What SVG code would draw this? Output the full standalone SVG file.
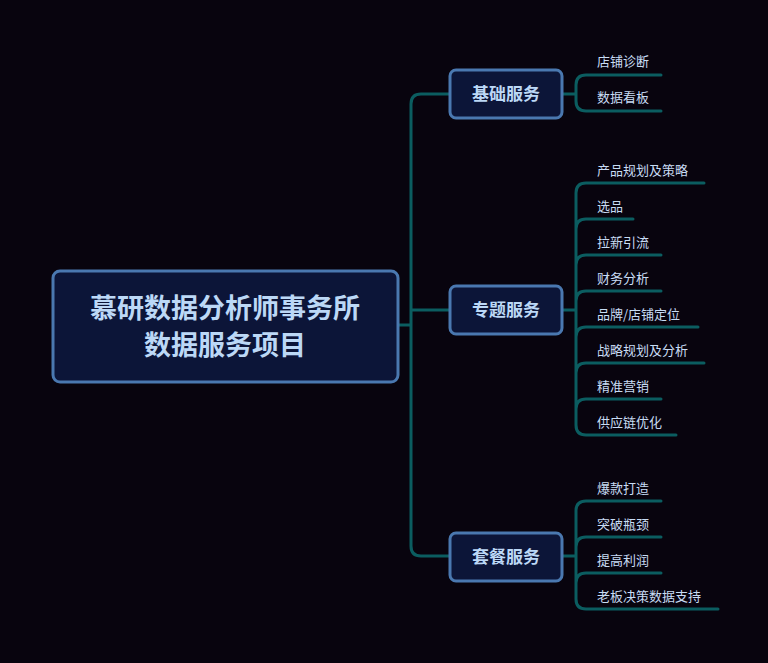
<svg xmlns="http://www.w3.org/2000/svg" width="768" height="663" viewBox="0 0 768 663">
<style>
.c{fill:none;stroke:#0b5d60;stroke-width:3;stroke-linecap:round}
.b{fill:#0c1538;stroke:#4a78b0;stroke-width:3}
.bt{font-family:"Noto Sans CJK SC",sans-serif;font-weight:bold;fill:#bcd8f6;text-anchor:middle}
.l{font-family:"Noto Sans CJK SC",sans-serif;font-size:13px;fill:#c8dcf4}
</style>
<rect width="768" height="663" fill="#08040e"/>
<g id="connectors">
<path class="c" d="M398 325H411M411 104Q411 94 421 94H450M411 325V104M411 325V546Q411 556 421 556H450M411 310H450"/>
<path class="c" d="M562 94H576M576 94V85Q576 75 586 75H661M576 94V101Q576 111 586 111H661"/>
<path class="c" d="M562 310H576M576 193Q576 183 586 183H704M576 193V425Q576 435 586 435H676M576 229Q576 219 586 219H633M576 265Q576 255 586 255H661M576 301Q576 291 586 291H661M576 337Q576 327 586 327H698M576 373Q576 363 586 363H704M576 409Q576 399 586 399H661"/>
<path class="c" d="M562 556H576M576 511Q576 501 586 501H661M576 511V599Q576 609 586 609H718M576 547Q576 537 586 537H661M576 583Q576 573 586 573H661"/>
</g>
<g id="root"><rect class="b" x="53" y="271" width="345" height="111" rx="7" stroke-width="4"/>
<text class="bt" x="225" y="318" font-size="27">慕研数据分析师事务所</text>
<text class="bt" x="225" y="355" font-size="27">数据服务项目</text></g>
<g id="n1"><rect class="b" x="450" y="70" width="112" height="48" rx="6"/><text class="bt" x="506" y="100" font-size="17">基础服务</text></g>
<g id="n2"><rect class="b" x="450" y="286" width="112" height="48" rx="6"/><text class="bt" x="506" y="316" font-size="17">专题服务</text></g>
<g id="n3"><rect class="b" x="450" y="533" width="112" height="48" rx="6"/><text class="bt" x="506" y="563" font-size="17">套餐服务</text></g>
<g id="leaves">
<text class="l" x="597" y="66">店铺诊断</text>
<text class="l" x="597" y="102">数据看板</text>
<text class="l" x="597" y="175">产品规划及策略</text>
<text class="l" x="597" y="211">选品</text>
<text class="l" x="597" y="247">拉新引流</text>
<text class="l" x="597" y="283">财务分析</text>
<text class="l" x="597" y="319">品牌/店铺定位</text>
<text class="l" x="597" y="355">战略规划及分析</text>
<text class="l" x="597" y="391">精准营销</text>
<text class="l" x="597" y="427">供应链优化</text>
<text class="l" x="597" y="493">爆款打造</text>
<text class="l" x="597" y="529">突破瓶颈</text>
<text class="l" x="597" y="565">提高利润</text>
<text class="l" x="597" y="601">老板决策数据支持</text>
</g>
</svg>
